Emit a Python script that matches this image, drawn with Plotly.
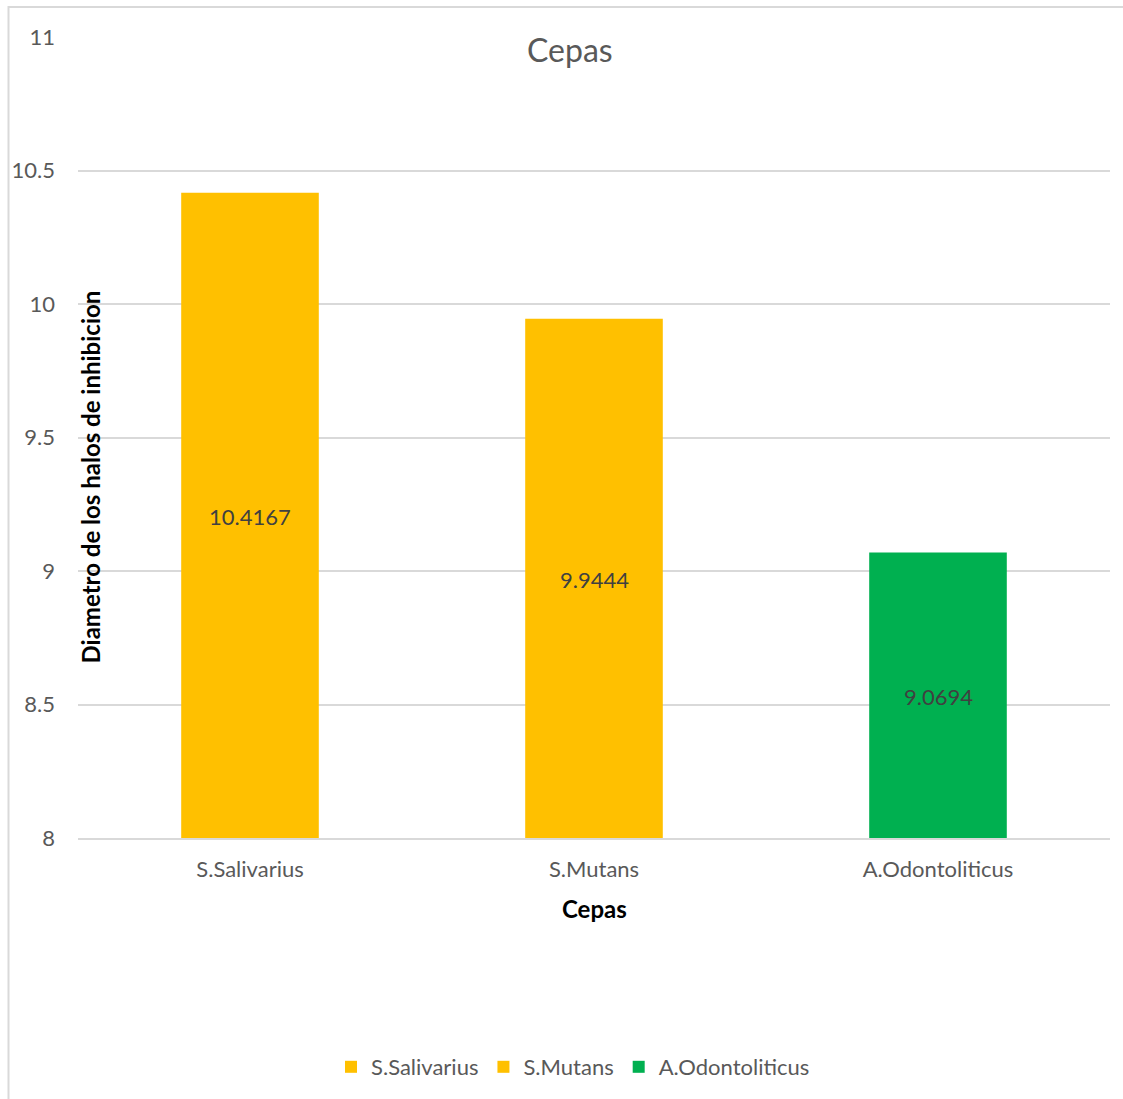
import plotly.graph_objects as go

# Strains and mean inhibition-halo diameters
cepas = ["S.Salivarius", "S.Mutans", "A.Odontoliticus"]
diametros = [10.4167, 9.9444, 9.0694]
colores = ["#FFC000", "#FFC000", "#00B050"]

y_min, y_max = 8, 11
y_ticks = [8, 8.5, 9, 9.5, 10, 10.5, 11]
y_tick_labels = ["8", "8.5", "9", "9.5", "10", "10.5", "11"]

FONT = "Lato, 'Open Sans', sans-serif"
GRAY = "#595959"

fig = go.Figure()
for nombre, valor, color in zip(cepas, diametros, colores):
    fig.add_trace(go.Bar(
        x=[nombre], y=[valor], name=nombre,
        marker=dict(color=color, line=dict(width=0)),
        width=0.4, hoverinfo="x+y",
    ))

W, H = 1123, 1099
L, R, T, B = 78, 13, 37, 260
PW, PH = W - L - R, H - T - B

# Value labels centred on the visible part of each bar
value_labels = [
    dict(text=f"{v:g}", x=c, y=(y_min + v) / 2, xref="x", yref="y",
         xanchor="center", yanchor="middle", yshift=-1, showarrow=False,
         font=dict(family=FONT, size=22, color="#404040"))
    for c, v in zip(cepas, diametros)
]

fig.update_layout(
    width=W, height=H,
    margin=dict(l=L, r=R, t=T, b=B),
    paper_bgcolor="white", plot_bgcolor="white",
    barmode="overlay",
    font=dict(family=FONT, color=GRAY),
    showlegend=True,
    legend=dict(orientation="h", x=(573 - L) / PW, xanchor="center",
                y=-(1067 - 839) / PH, yanchor="middle",
                font=dict(size=22, color=GRAY), itemwidth=30,
                traceorder="normal"),
    xaxis=dict(categoryorder="array", categoryarray=cepas,
               showgrid=False, showline=True, linecolor="#D9D9D9", linewidth=2,
               ticks="", tickfont=dict(size=22, color=GRAY),
               ticklabelstandoff=11, fixedrange=True),
    yaxis=dict(range=[y_min, y_max], tickvals=y_ticks, ticktext=y_tick_labels,
               showgrid=True, gridcolor="#D9D9D9", gridwidth=2,
               zeroline=False, showline=False, ticks="",
               tickfont=dict(size=22, color=GRAY), ticklabelstandoff=22,
               fixedrange=True),
    shapes=[dict(type="rect", xref="paper", yref="paper",
                 x0=-(L - 8.5) / PW, x1=(W - L + 5) / PW,
                 y0=-(B + 10) / PH, y1=1 + (T - 7) / PH,
                 line=dict(color="#D9D9D9", width=2), layer="below")],
    annotations=value_labels + [
        dict(text="Cepas", xref="paper", yref="paper", x=(570 - L) / PW,
             y=1 - (50 - T) / PH, xanchor="center", yanchor="middle",
             showarrow=False, font=dict(size=32, color=GRAY)),
        dict(text="<b>Cepas</b>", xref="paper", yref="paper", x=0.5,
             y=-(910 - 839) / PH, xanchor="center", yanchor="middle",
             showarrow=False, font=dict(size=24, color="black")),
        dict(text="<b>Diametro de los halos de inhibicion</b>", xref="paper", yref="paper",
             x=-(L - 90) / PW, y=1 - (478 - T) / PH,
             xanchor="center", yanchor="middle", textangle=-90,
             showarrow=False, font=dict(size=24, color="black")),
    ],
)

fig.write_html("out.html")
